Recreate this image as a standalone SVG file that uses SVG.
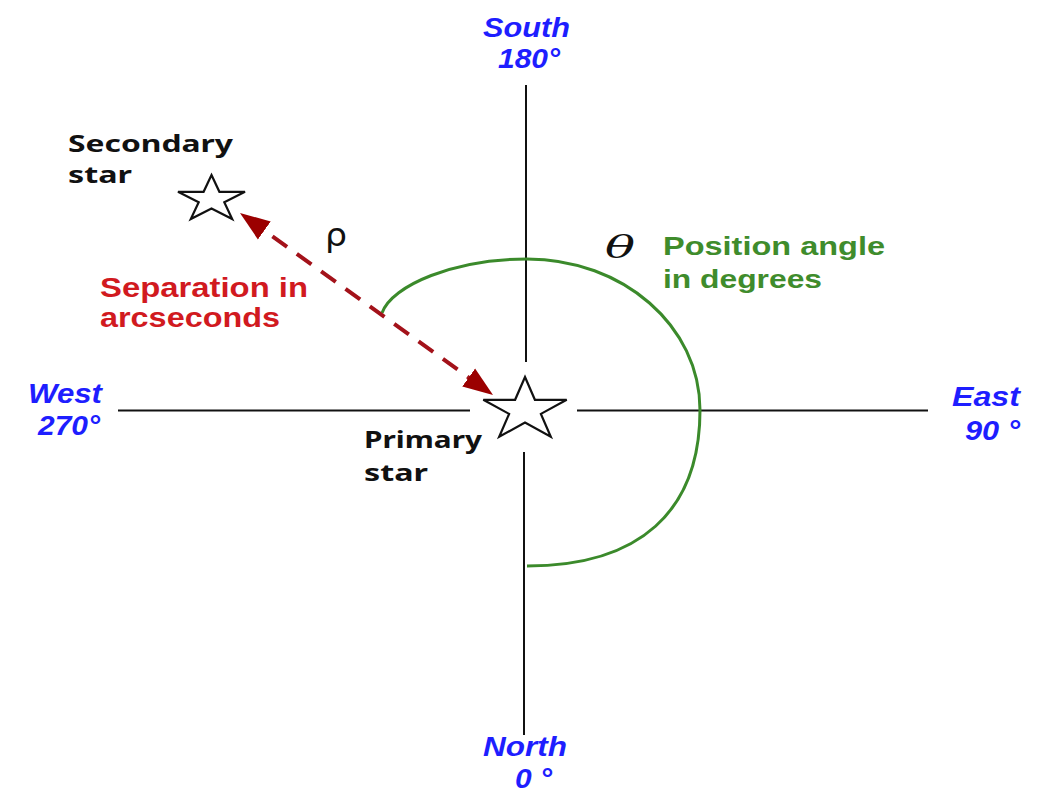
<svg xmlns="http://www.w3.org/2000/svg" width="1038" height="800" viewBox="0 0 1038 800">
<style>
.axis{stroke:#111;stroke-width:2;fill:none}
.star{fill:#fff;stroke:#111;stroke-width:2.2;stroke-linejoin:miter}
.dir{font-family:"Liberation Sans",Arial,sans-serif;font-weight:bold;font-style:italic;font-size:28px;fill:#1e1eff}
.lbl{font-family:"Noto Sans","DejaVu Sans",sans-serif;font-weight:700;font-size:24px;fill:#111}
.red{font-family:"Liberation Sans",Arial,sans-serif;font-weight:bold;font-size:27px;fill:#d11a1f}
.grn{font-family:"Liberation Sans",Arial,sans-serif;font-weight:bold;font-size:25px;fill:#3f8c2c}
.sep{stroke:#a3121a;stroke-width:4;stroke-dasharray:18 12;fill:none}
.arc{stroke:#3b8a2b;stroke-width:3;fill:none}
</style>
<defs>
<marker id="ah" markerUnits="userSpaceOnUse" viewBox="0 -12 32 24" markerWidth="32" markerHeight="24" refX="20" refY="0" orient="auto-start-reverse">
<path d="M0,-11 L30,0 L0,11 z" fill="#9b0000"/>
</marker>
</defs>
<rect width="1038" height="800" fill="#fff"/>
<g id="axes">
<line class="axis" x1="526" y1="85" x2="526" y2="362"/>
<line class="axis" x1="524" y1="452" x2="524" y2="735"/>
<line class="axis" x1="118" y1="410.5" x2="470" y2="410.5"/>
<line class="axis" x1="577" y1="410.5" x2="928" y2="410.5"/>
</g>
<g id="connectors">
<path id="angle-arc" class="arc" d="M382,313 C392,285 455,259 527,259 C623,259 700,326 700,410 C700,512 639,566 527,566"/>
<line id="separation" class="sep" x1="248.1" y1="218.8" x2="484.9" y2="389.2" marker-start="url(#ah)" marker-end="url(#ah)"/>
</g>
<g id="primary-star">
<polygon class="star" points="525,377 534.9,399.8 566.7,399.8 540.9,413.9 550.8,436.7 525,422.6 499.2,436.7 509.1,413.9 483.3,399.8 515.1,399.8"/>
<text class="lbl" x="364" y="448" textLength="118" lengthAdjust="spacingAndGlyphs">Primary</text>
<text class="lbl" x="364" y="481" textLength="64" lengthAdjust="spacingAndGlyphs">star</text>
</g>
<g id="secondary-star">
<polygon class="star" points="211.5,175 219.4,191.8 245,191.8 224.3,202.2 232.2,219 211.5,208.6 190.8,219 198.7,202.2 178,191.8 203.6,191.8"/>
<text class="lbl" x="68" y="152" textLength="165" lengthAdjust="spacingAndGlyphs">Secondary</text>
<text class="lbl" x="68" y="183" textLength="64" lengthAdjust="spacingAndGlyphs">star</text>
</g>
<g id="south">
<text class="dir" x="483" y="37" textLength="87" lengthAdjust="spacingAndGlyphs">South</text>
<text class="dir" x="498" y="68" textLength="62" lengthAdjust="spacingAndGlyphs">180°</text>
</g>
<g id="west">
<text class="dir" x="28" y="403" textLength="74" lengthAdjust="spacingAndGlyphs">West</text>
<text class="dir" x="38" y="435" textLength="62" lengthAdjust="spacingAndGlyphs">270°</text>
</g>
<g id="east">
<text class="dir" x="952" y="406" textLength="68" lengthAdjust="spacingAndGlyphs">East</text>
<text class="dir" x="965" y="440" textLength="55" lengthAdjust="spacingAndGlyphs">90 °</text>
</g>
<g id="north">
<text class="dir" x="483" y="756" textLength="84" lengthAdjust="spacingAndGlyphs">North</text>
<text class="dir" x="515" y="788" textLength="37" lengthAdjust="spacingAndGlyphs">0 °</text>
</g>
<g id="separation-label">
<text class="red" x="100" y="297" textLength="208" lengthAdjust="spacingAndGlyphs">Separation in</text>
<text class="red" x="100" y="327" textLength="180" lengthAdjust="spacingAndGlyphs">arcseconds</text>
<text x="325" y="246" font-family="DejaVu Sans,sans-serif" font-size="32" fill="#111" textLength="22" lengthAdjust="spacingAndGlyphs">ρ</text>
</g>
<g id="angle-label">
<text x="605" y="258" font-family="DejaVu Serif,serif" font-style="italic" font-weight="normal" font-size="32" fill="#111" textLength="30" lengthAdjust="spacingAndGlyphs">θ</text>
<text class="grn" x="663" y="255" textLength="222" lengthAdjust="spacingAndGlyphs">Position angle</text>
<text class="grn" x="663" y="288" textLength="159" lengthAdjust="spacingAndGlyphs">in degrees</text>
</g>
</svg>
